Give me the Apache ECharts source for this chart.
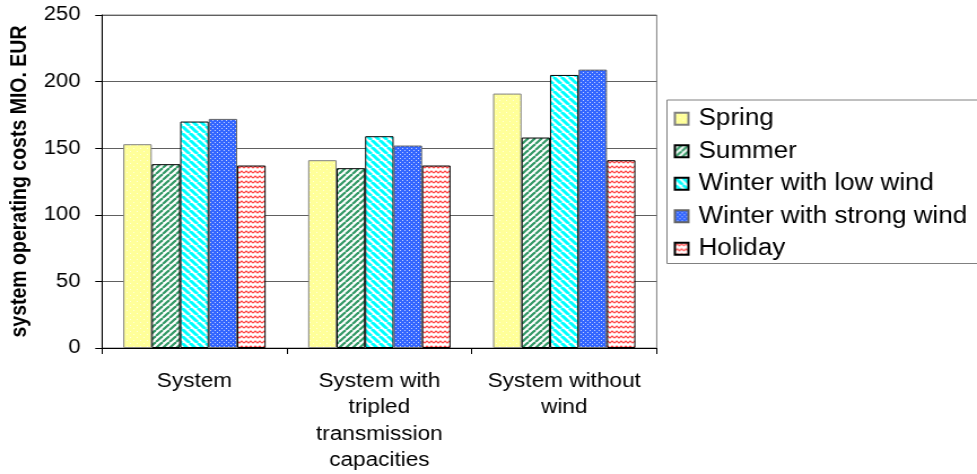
<!DOCTYPE html>
<html>
<head>
<meta charset="utf-8">
<script src="https://cdn.jsdelivr.net/npm/echarts@6/dist/echarts.min.js"></script>
<style>
  html, body { margin: 0; padding: 0; background: #fff; overflow: hidden; }
  #wrap { width: 977px; height: 474px; overflow: hidden; }
  /* the chart is laid out on a narrower canvas and widened to fill the frame */
  #chart { width: 865px; height: 474px; transform: scaleX(1.1295); transform-origin: 0 0; }
</style>
</head>
<body>
<div id="wrap"><div id="chart"></div></div>
<script>
// Scenario categories on the x axis
const categories = [
  'System',
  'System with\ntripled\ntransmission\ncapacities',
  'System without\nwind'
];

// Operating costs per season, MIO. EUR
const spring = [153, 141, 191];
const summer = [138, 135, 158];
const winterLowWind = [170, 159, 205];
const winterStrongWind = [172, 152, 209];
const holiday = [137, 137, 141];

const seriesNames = ['Spring', 'Summer', 'Winter with low wind', 'Winter with strong wind', 'Holiday'];
const yTicks = [0, 50, 100, 150, 200, 250];

// Small canvas tiles used as fill patterns
function tile(w, h, draw) {
  const c = document.createElement('canvas');
  c.width = w; c.height = h;
  const ctx = c.getContext('2d');
  draw(ctx, w, h);
  return { image: c, repeat: 'repeat' };
}

const springFill = tile(6, 6, (ctx, w, h) => {
  ctx.fillStyle = '#FFFF99'; ctx.fillRect(0, 0, w, h);
  ctx.fillStyle = '#FFFFE0'; ctx.fillRect(1, 1, 1, 1); ctx.fillRect(4, 4, 1, 1);
});

const summerFill = tile(6, 6, (ctx, w, h) => {
  ctx.fillStyle = '#ffffff'; ctx.fillRect(0, 0, w, h);
  ctx.strokeStyle = '#339966'; ctx.lineWidth = 2.2;
  for (let k = -1; k <= 1; k++) {
    ctx.beginPath(); ctx.moveTo(k * w, h); ctx.lineTo(k * w + w, 0); ctx.stroke();
  }
});

const cyanFill = tile(7, 7, (ctx, w, h) => {
  ctx.fillStyle = '#ffffff'; ctx.fillRect(0, 0, w, h);
  ctx.strokeStyle = '#00FFFF'; ctx.lineWidth = 3;
  for (let k = -1; k <= 1; k++) {
    ctx.beginPath(); ctx.moveTo(k * w, 0); ctx.lineTo(k * w + w, h); ctx.stroke();
  }
});

const blueFill = tile(4, 4, (ctx, w, h) => {
  ctx.fillStyle = '#3366FF'; ctx.fillRect(0, 0, w, h);
  ctx.fillStyle = '#C8D4FF'; ctx.fillRect(0, 0, 1, 1); ctx.fillRect(2, 2, 1, 1);
});

const holidayFill = tile(8, 5, (ctx, w, h) => {
  ctx.fillStyle = '#ffffff'; ctx.fillRect(0, 0, w, h);
  ctx.strokeStyle = '#FF4040'; ctx.lineWidth = 1.2;
  ctx.beginPath();
  ctx.moveTo(0, 3); ctx.lineTo(2, 1); ctx.lineTo(4, 3); ctx.lineTo(6, 1); ctx.lineTo(8, 3);
  ctx.stroke();
});

const fills = [springFill, summerFill, cyanFill, blueFill, holidayFill];
const borders = ['#808080', '#000000', '#000000', '#666666', '#000000'];
const values = [spring, summer, winterLowWind, winterStrongWind, holiday];

const FONT = 'Liberation Sans, Arial, sans-serif';
const chart = echarts.init(document.getElementById('chart'));

chart.setOption({
  animation: false,
  textStyle: { fontFamily: FONT, color: '#000' },
  grid: {
    left: 90.3, right: 283.6, top: 15, bottom: 126,
    outerBoundsMode: 'none',
    containLabel: false,
    show: true, borderColor: '#808080', borderWidth: 1
  },
  legend: {
    orient: 'vertical',
    left: 590.5, top: 100,
    padding: [7, 16, 3, 6],
    itemWidth: 12, itemHeight: 12,
    itemGap: 9,
    borderColor: '#808080', borderWidth: 1,
    backgroundColor: '#fff',
    textStyle: { fontSize: 23, lineHeight: 23.5, color: '#000', fontFamily: FONT, padding: [0, 0, 0, 4] },
    data: seriesNames.map(n => ({ name: n, icon: 'rect' }))
  },
  xAxis: {
    type: 'category',
    data: categories,
    axisLine: { lineStyle: { color: '#000', width: 1 } },
    axisTick: { show: true, length: 6, lineStyle: { color: '#000' } },
    axisLabel: { interval: 0, fontSize: 20, lineHeight: 26.5, margin: 20, color: '#000' }
  },
  yAxis: {
    type: 'value',
    min: 0, max: 250, interval: 50,
    name: 'system operating costs MIO. EUR',
    nameLocation: 'middle',
    nameRotate: 90,
    nameGap: 63,
    nameTextStyle: { fontSize: 19.5, fontWeight: 'bold', color: '#000' },
    axisLine: { show: true, lineStyle: { color: '#000', width: 1 } },
    axisTick: { show: true, length: 6, lineStyle: { color: '#000' } },
    axisLabel: {
      fontSize: 19.5, color: '#000', margin: 19,
      formatter: v => (yTicks.indexOf(v) >= 0 ? String(v) : '')
    },
    splitLine: { show: true, lineStyle: { color: '#606060', width: 1 } }
  },
  series: seriesNames.map((n, i) => ({
    name: n,
    type: 'bar',
    data: values[i],
    barGap: '0%',
    barCategoryGap: '23%',
    itemStyle: { color: fills[i], borderColor: borders[i], borderWidth: 1 }
  }))
});
</script>
</body>
</html>
